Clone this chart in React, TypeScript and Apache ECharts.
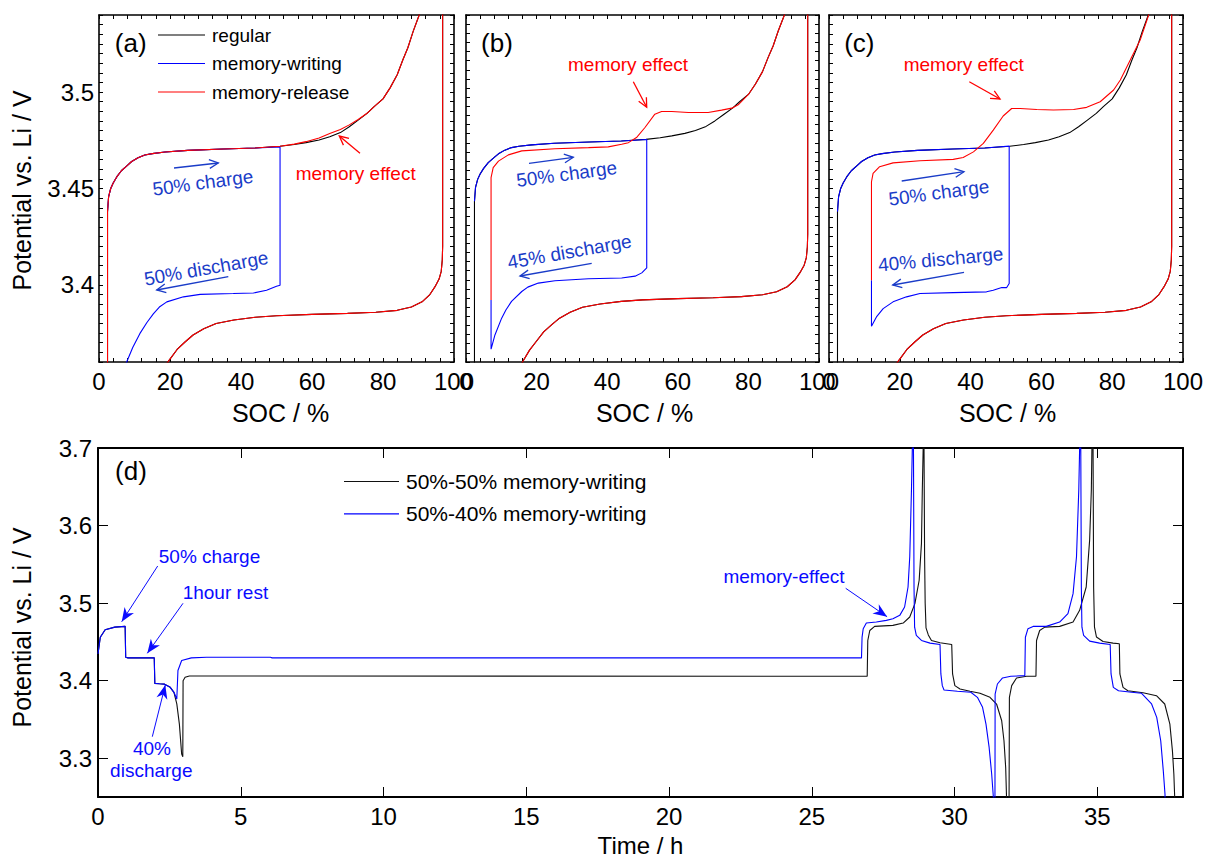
import React, { useEffect, useRef } from 'react';
import * as echarts from 'echarts';

const FONT = '"Liberation Sans", Arial, Helvetica, sans-serif';

// ---- SOC (%) vs potential (V) ----
const regularCharge: [number, number][] = [
  [2.4, 3.3], [2.4, 3.438], [2.7, 3.4456], [3.3, 3.45], [4.0, 3.4529], [5.0, 3.456], [6.3, 3.4592],
  [8.0, 3.462], [9.2, 3.464], [11.0, 3.466], [12.9, 3.4674], [15.0, 3.4681], [18.6, 3.4689],
  [25.0, 3.4698], [35.0, 3.4705], [44.0, 3.471], [51.0, 3.4719], [55.0, 3.4728], [58.3, 3.4738],
  [62.0, 3.4752], [65.0, 3.4768], [68.0, 3.479], [70.5, 3.482], [73.0, 3.4855], [75.5, 3.489],
  [77.5, 3.4925], [80.0, 3.4965], [82.0, 3.5022], [84.0, 3.509], [85.6, 3.5168], [87.0, 3.523],
  [88.5, 3.5315], [90.2, 3.54], [91.0, 3.555],
];

const regularDischarge: [number, number][] = [
  [96.8, 3.56], [96.8, 3.42], [96.7, 3.413], [96.4, 3.407], [95.8, 3.403], [94.8, 3.3995],
  [93.2, 3.395], [91.0, 3.3912], [88.0, 3.3885], [84.0, 3.3868], [78.0, 3.3858], [70.0, 3.3852],
  [60.0, 3.3847], [50.0, 3.384], [44.0, 3.3832], [38.0, 3.3818], [33.0, 3.38], [29.5, 3.3772],
  [26.5, 3.374], [24.3, 3.3705], [22.0, 3.3665], [20.0, 3.3615], [18.0, 3.3565], [16.0, 3.35],
  [14.5, 3.344],
];

const writingA: [number, number][] = [
  [2.4, 3.438], [2.7, 3.4456], [3.3, 3.45], [4.0, 3.4529], [5.0, 3.456], [6.3, 3.4592], [8.0, 3.462],
  [9.2, 3.464], [11.0, 3.466], [12.9, 3.4674], [15.0, 3.4681], [18.6, 3.4689], [25.0, 3.4698],
  [35.0, 3.4705], [44.0, 3.471], [51.0, 3.4716], [51.0, 3.3998], [50.0, 3.3993], [47.2, 3.3972],
  [43.5, 3.3958], [37.8, 3.3955], [28.5, 3.3951], [23.8, 3.3938], [19.1, 3.3912], [17.0, 3.3885],
  [15.3, 3.385], [13.5, 3.3805], [11.5, 3.3747], [9.5, 3.3675], [7.8, 3.36], [6.8, 3.355],
];

const releaseA: [number, number][] = [
  [2.4, 3.3], [2.4, 3.438], [2.7, 3.4456], [3.3, 3.45], [4.0, 3.4529], [5.0, 3.456], [6.3, 3.4592],
  [8.0, 3.462], [9.2, 3.464], [11.0, 3.466], [12.9, 3.4674], [15.0, 3.4681], [18.6, 3.4689],
  [25.0, 3.4698], [35.0, 3.4705], [44.0, 3.471], [51.0, 3.4719], [55.0, 3.473], [58.3, 3.4743],
  [62.0, 3.4762], [65.0, 3.4785], [68.0, 3.4806], [70.5, 3.483], [73.0, 3.4858], [75.5, 3.489],
  [77.5, 3.4925], [80.0, 3.4965], [82.0, 3.5022], [84.0, 3.509], [85.6, 3.5168], [87.0, 3.523],
  [88.5, 3.5315], [90.2, 3.54], [91.0, 3.555],
];

const writingB: [number, number][] = [
  [2.4, 3.438], [2.7, 3.4456], [3.3, 3.45], [4.0, 3.4529], [5.0, 3.456], [6.3, 3.4592], [8.0, 3.462],
  [9.2, 3.464], [11.0, 3.466], [12.9, 3.4674], [15.0, 3.4681], [18.6, 3.4689], [25.0, 3.4698],
  [35.0, 3.4705], [44.0, 3.471], [51.2, 3.4718], [51.2, 3.4015], [49.8, 3.3988], [47.9, 3.397],
  [44.1, 3.396], [34.7, 3.3956], [25.2, 3.3945], [20.5, 3.3932], [17.5, 3.391], [15.8, 3.3886],
  [12.9, 3.3832], [11.3, 3.3785], [10.1, 3.374], [8.2, 3.3648], [7.3, 3.3584], [7.1, 3.357],
  [7.1, 3.384],
];

const releaseB: [number, number][] = [
  [7.1, 3.384], [7.1, 3.4509], [7.7, 3.4564], [9.2, 3.46], [12.0, 3.4634], [15.8, 3.4656],
  [25.2, 3.4668], [34.7, 3.4674], [40.3, 3.4678], [44.1, 3.4692], [46.0, 3.4701], [48.3, 3.4729],
  [50.7, 3.4784], [53.5, 3.4857], [55.4, 3.4872], [58.3, 3.4872], [63.0, 3.4866], [68.6, 3.4866],
  [72.4, 3.4879], [75.3, 3.489], [77.1, 3.4908], [80.0, 3.4965], [82.0, 3.5022], [84.0, 3.509],
  [85.6, 3.5168], [87.0, 3.523], [88.5, 3.5315], [90.2, 3.54], [91.0, 3.555],
];

const writingC: [number, number][] = [
  [2.4, 3.438], [2.7, 3.4456], [3.3, 3.45], [4.0, 3.4529], [5.0, 3.456], [6.3, 3.4592], [8.0, 3.462],
  [9.2, 3.464], [11.0, 3.466], [12.9, 3.4674], [15.0, 3.4681], [18.6, 3.4689], [25.0, 3.4698],
  [35.0, 3.4705], [44.0, 3.471], [50.9, 3.472], [50.9, 3.4007], [50.2, 3.3986], [48.8, 3.3986],
  [46.4, 3.3972], [44.5, 3.3964], [35.1, 3.396], [25.7, 3.3955], [21.9, 3.3938], [18.1, 3.3912],
  [15.3, 3.3877], [13.4, 3.3834], [12.0, 3.3785], [12.0, 3.4024],
];

const releaseC: [number, number][] = [
  [12.0, 3.4024], [12.0, 3.4535], [12.45, 3.4578], [14.3, 3.4613], [18.1, 3.4633], [25.7, 3.4644],
  [35.1, 3.4651], [37.9, 3.4661], [40.8, 3.469], [43.6, 3.4734], [46.4, 3.4803], [49.2, 3.4876],
  [51.6, 3.4915], [54.0, 3.4915], [58.7, 3.491], [63.4, 3.4907], [69.1, 3.491], [72.8, 3.4921],
  [76.6, 3.495], [80.4, 3.5011], [82.3, 3.5063], [85.1, 3.5166], [87.9, 3.527], [90.3, 3.54],
  [91.0, 3.555],
];

// ---- time (h) vs potential (V) ----
const cycle5050: [number, number][] = [
  [0.0, 3.4346], [0.08, 3.456], [0.25, 3.4656], [0.59, 3.469], [0.95, 3.47], [0.97, 3.4302],
  [1.05, 3.4294], [1.97, 3.4294], [1.99, 3.3965], [2.15, 3.396], [2.33, 3.3955], [2.53, 3.3914],
  [2.66, 3.385], [2.76, 3.37], [2.85, 3.344], [2.93, 3.3053], [2.97, 3.302], [2.98, 3.4],
  [3.05, 3.4043], [3.2, 3.406], [26.94, 3.4056], [26.96, 3.4518], [27.03, 3.4647], [27.2, 3.47],
  [27.84, 3.4713], [28.2, 3.4743], [28.43, 3.4821], [28.61, 3.4993], [28.76, 3.5295], [28.84, 3.577],
  [28.87, 3.646], [28.9, 3.7], [28.91, 3.8], [28.93, 3.7], [28.95, 3.56], [28.97, 3.5], [29.0, 3.468],
  [29.08, 3.459], [29.19, 3.4518], [29.49, 3.4488], [29.9, 3.4467], [29.93, 3.4087], [30.01, 3.3936],
  [30.19, 3.3893], [30.54, 3.3863], [30.89, 3.3837], [31.24, 3.3785], [31.47, 3.3699], [31.65, 3.3483],
  [31.73, 3.3225], [31.79, 3.2879], [31.82, 3.249], [31.85, 3.15], [31.9, 3.15], [31.92, 3.3785],
  [32.0, 3.3936], [32.17, 3.4035], [32.52, 3.4056], [32.85, 3.4056], [32.87, 3.4518], [32.98, 3.4647],
  [33.16, 3.469], [33.68, 3.47], [34.15, 3.4756], [34.38, 3.4907], [34.61, 3.5208], [34.73, 3.5812],
  [34.79, 3.646], [34.81, 3.7], [34.83, 3.8], [34.85, 3.7], [34.87, 3.52], [34.9, 3.469],
  [34.97, 3.4562], [35.2, 3.4505], [35.55, 3.4484], [35.77, 3.4476], [35.79, 3.4087], [35.9, 3.3914],
  [36.07, 3.387], [36.6, 3.3845], [37.07, 3.3806], [37.36, 3.3699], [37.54, 3.344], [37.63, 3.3095],
  [37.68, 3.2794], [37.71, 3.249], [37.73, 3.15],
];

const cycle5040: [number, number][] = [
  [0.0, 3.4346], [0.08, 3.456], [0.25, 3.4656], [0.59, 3.469], [0.95, 3.47], [0.97, 3.4302],
  [1.05, 3.4294], [1.97, 3.4294], [1.99, 3.3965], [2.15, 3.396], [2.33, 3.3955], [2.53, 3.3914],
  [2.66, 3.385], [2.76, 3.3763], [2.8, 3.4131], [2.93, 3.426], [3.27, 3.4294], [3.8, 3.4302],
  [6.04, 3.4302], [6.1, 3.4294], [26.74, 3.4294], [26.76, 3.4562], [26.8, 3.467], [26.91, 3.4743],
  [27.26, 3.4756], [27.61, 3.4777], [27.84, 3.4799], [28.08, 3.4842], [28.25, 3.495], [28.37, 3.5208],
  [28.43, 3.5597], [28.49, 3.646], [28.52, 3.7], [28.54, 3.8], [28.56, 3.7], [28.58, 3.52],
  [28.6, 3.469], [28.66, 3.4583], [28.84, 3.4519], [29.14, 3.4484], [29.49, 3.4467], [29.52, 3.4087],
  [29.57, 3.3936], [29.63, 3.388], [30.1, 3.3863], [30.57, 3.385], [30.8, 3.3785], [30.98, 3.3656],
  [31.1, 3.344], [31.21, 3.3139], [31.3, 3.2794], [31.36, 3.249], [31.38, 3.15], [31.41, 3.15],
  [31.42, 3.3828], [31.5, 3.3957], [31.68, 3.4035], [31.97, 3.4056], [32.46, 3.4065], [32.48, 3.456],
  [32.57, 3.467], [32.75, 3.47], [33.21, 3.47], [33.68, 3.4756], [33.97, 3.4864], [34.15, 3.5122],
  [34.27, 3.5597], [34.35, 3.646], [34.38, 3.7], [34.4, 3.8], [34.42, 3.7], [34.44, 3.52],
  [34.46, 3.469], [34.52, 3.4583], [34.73, 3.451], [35.08, 3.4484], [35.45, 3.4467], [35.48, 3.4087],
  [35.56, 3.3914], [35.74, 3.387], [36.2, 3.385], [36.55, 3.3837], [36.9, 3.37], [37.08, 3.3527],
  [37.22, 3.3225], [37.31, 3.2837], [37.37, 3.2535], [37.39, 3.15],
];

// Axis ranges and tick values
const socRange = [0, 100];
const potentialRanges = [[3.36, 3.54], [3.35, 3.54], [3.36, 3.54]];
const timeRange = [0, 38];
const timeTickLabels = [0, 5, 10, 15, 20, 25, 30, 35];
const potentialTicksD = [3.3, 3.4, 3.5, 3.6, 3.7];
const potentialRangeD = [3.25, 3.7];

const BLACK = '#000000';
const BLUE = '#0000ff';
const RED = '#ff0000';
const NOTE_BLUE = '#1a3cc8';
const NOTE_BLUE_D = '#0a0aff';

const topGrids = [
  { left: 99, top: 15, width: 355, height: 347 },
  { left: 466, top: 15, width: 353, height: 347 },
  { left: 829, top: 15, width: 354, height: 347 },
];
const bottomGrid = { left: 98, top: 448, width: 1085, height: 349 };

function label(text: string, x: number, y: number, color: string, size: number, rot = 0) {
  return {
    type: 'text',
    x,
    y,
    rotation: (rot * Math.PI) / 180,
    z: 60,
    style: {
      text,
      fill: color,
      fontSize: size,
      fontFamily: FONT,
      align: 'center',
      verticalAlign: 'middle',
      textAlign: 'center',
      textVerticalAlign: 'middle',
    },
  };
}

function arrow(x1: number, y1: number, x2: number, y2: number, color: string, filled: boolean) {
  const ang = Math.atan2(y2 - y1, x2 - x1);
  const len = filled ? 15 : 10;
  const spread = filled ? 0.38 : 0.45;
  const w1 = [x2 - len * Math.cos(ang - spread), y2 - len * Math.sin(ang - spread)];
  const w2 = [x2 - len * Math.cos(ang + spread), y2 - len * Math.sin(ang + spread)];
  const els: any[] = [
    { type: 'line', z: 50, shape: { x1, y1, x2, y2 }, style: { stroke: color, lineWidth: filled ? 1 : 1.3 } },
  ];
  if (filled) {
    const back = [x2 - len * 0.65 * Math.cos(ang), y2 - len * 0.65 * Math.sin(ang)];
    els.push({ type: 'polygon', z: 51, shape: { points: [w1, [x2, y2], w2, back] }, style: { fill: color } });
  } else {
    els.push({
      type: 'polyline',
      z: 51,
      shape: { points: [w1, [x2, y2], w2] },
      style: { stroke: color, lineWidth: 1.3, fill: null },
    });
  }
  return els;
}

function isMultiple(v: number, step: number) {
  const q = v / step;
  return Math.abs(q - Math.round(q)) < 1e-6;
}

function buildOption() {
  const grid: any[] = [];
  const xAxis: any[] = [];
  const yAxis: any[] = [];
  const series: any[] = [];

  const tickStyle = (len: number) => ({ show: true, inside: true, length: len, lineStyle: { color: BLACK, width: 1 } });
  const lineStyle = (w: number) => ({ show: true, onZero: false, lineStyle: { color: BLACK, width: w } });

  topGrids.forEach((g, i) => {
    grid.push({ ...g, show: false, outerBoundsMode: 'none', containLabel: false });
    const [ymin, ymax] = potentialRanges[i];
    // bottom + top SOC axes
    xAxis.push({
      type: 'value', gridIndex: i, position: 'bottom', min: socRange[0], max: socRange[1], interval: 4,
      axisLine: lineStyle(1.6), axisTick: tickStyle(4), splitLine: { show: false },
      axisLabel: {
        show: true, margin: 7, color: BLACK, fontSize: 24, fontFamily: FONT,
        formatter: (v: number) => (isMultiple(v, 20) ? String(Math.round(v)) : ''),
      },
    });
    xAxis.push({
      type: 'value', gridIndex: i, position: 'top', min: socRange[0], max: socRange[1], interval: 4,
      axisLine: lineStyle(1.6), axisTick: tickStyle(4), splitLine: { show: false }, axisLabel: { show: false },
    });
    yAxis.push({
      type: 'value', gridIndex: i, position: 'left', min: ymin, max: ymax, interval: 0.005,
      axisLine: lineStyle(1.6), axisTick: tickStyle(4), splitLine: { show: false },
      axisLabel: {
        show: i === 0, margin: 5, color: BLACK, fontSize: 24, fontFamily: FONT,
        formatter: (v: number) => (isMultiple(v, 0.05) ? String(Number(v.toFixed(2))) : ''),
      },
    });
    yAxis.push({
      type: 'value', gridIndex: i, position: 'right', min: ymin, max: ymax, interval: 0.005,
      axisLine: lineStyle(1.6), axisTick: tickStyle(4), splitLine: { show: false }, axisLabel: { show: false },
    });
  });

  grid.push({ ...bottomGrid, show: false, outerBoundsMode: 'none', containLabel: false });
  xAxis.push({
    type: 'value', gridIndex: 3, position: 'bottom', min: timeRange[0], max: timeRange[1], interval: 5,
    axisLine: lineStyle(2), axisTick: tickStyle(10), splitLine: { show: false },
    axisLabel: {
      show: true, margin: 7, color: BLACK, fontSize: 24, fontFamily: FONT,
      formatter: (v: number) => (timeTickLabels.includes(v) ? String(v) : ''),
    },
  });
  xAxis.push({
    type: 'value', gridIndex: 3, position: 'top', min: timeRange[0], max: timeRange[1], interval: 5,
    axisLine: lineStyle(2), axisTick: tickStyle(10), splitLine: { show: false }, axisLabel: { show: false },
  });
  yAxis.push({
    type: 'value', gridIndex: 3, position: 'left', min: potentialRangeD[0], max: potentialRangeD[1],
    axisLine: lineStyle(2), axisTick: { ...tickStyle(10), customValues: potentialTicksD }, splitLine: { show: false },
    axisLabel: {
      show: true, margin: 6, color: BLACK, fontSize: 24, fontFamily: FONT, customValues: potentialTicksD,
      formatter: (v: number) => v.toFixed(1),
    },
  });
  yAxis.push({
    type: 'value', gridIndex: 3, position: 'right', min: potentialRangeD[0], max: potentialRangeD[1],
    axisLine: lineStyle(2), axisTick: { ...tickStyle(10), customValues: potentialTicksD }, splitLine: { show: false },
    axisLabel: { show: false },
  });

  const line = (name: string, data: [number, number][], color: string, gi: number, z = 2) => ({
    type: 'line', name, data, xAxisIndex: 2 * gi, yAxisIndex: 2 * gi, symbol: 'none', showSymbol: false,
    clip: true, z, lineStyle: { color, width: 1.1 }, itemStyle: { color }, emphasis: { disabled: true },
    silent: true,
  });

  const panels = [
    [writingA, releaseA],
    [writingB, releaseB],
    [writingC, releaseC],
  ];
  panels.forEach(([w, r], i) => {
    series.push(line('regular', regularCharge, BLACK, i, 2));
    series.push(line('regular', regularDischarge, BLACK, i, 2));
    series.push(line('memory-writing', w, BLUE, i, 3));
    series.push(line('memory-release', r, RED, i, 4));
    series.push(line('memory-release', regularDischarge, RED, i, 4));
  });
  series.push(line('50%-50% memory-writing', cycle5050, '#111111', 3, 2));
  series.push(line('50%-40% memory-writing', cycle5040, BLUE, 3, 3));

  const graphic: any[] = [
    label('(a)', 130.7, 43.3, BLACK, 26),
    label('(b)', 497, 43.3, BLACK, 26),
    label('(c)', 859.3, 43.3, BLACK, 26),
    label('(d)', 131, 471, BLACK, 26),
    label('SOC / %', 280.5, 413, BLACK, 25),
    label('SOC / %', 644.5, 413, BLACK, 25),
    label('SOC / %', 1007.5, 413, BLACK, 25),
    label('Time / h', 640.5, 845, BLACK, 24),
    label('Potential vs. Li / V', 22, 190.5, BLACK, 25, 90),
    label('Potential vs. Li / V', 22, 627.5, BLACK, 25, 90),

    // (a)
    label('50% charge', 202.8, 182.7, NOTE_BLUE, 19, 7.5),
    label('50% discharge', 206.2, 268.3, NOTE_BLUE, 19, 10),
    label('memory effect', 355.7, 173.3, RED, 19),
    ...arrow(174, 168, 218.3, 163, NOTE_BLUE, false),
    ...arrow(228.3, 276.7, 156.7, 290, NOTE_BLUE, false),
    ...arrow(360, 153.3, 339.3, 136, RED, false),

    // (b)
    label('memory effect', 628, 64, RED, 19),
    label('50% charge', 566.7, 174, NOTE_BLUE, 19, 7.5),
    label('45% discharge', 569.5, 251.7, NOTE_BLUE, 19, 10),
    ...arrow(633.3, 81.7, 646.7, 107.3, RED, false),
    ...arrow(529, 163.3, 573.3, 157.3, NOTE_BLUE, false),
    ...arrow(591.7, 263.3, 520, 276, NOTE_BLUE, false),

    // (c)
    label('memory effect', 963.7, 64, RED, 19),
    label('50% charge', 938.8, 192.7, NOTE_BLUE, 19, 7.5),
    label('40% discharge', 940.7, 259.3, NOTE_BLUE, 19, 5.3),
    ...arrow(969.3, 81.7, 1000, 99, RED, false),
    ...arrow(901.7, 181, 964, 171.7, NOTE_BLUE, false),
    ...arrow(964, 272.3, 892.7, 285, NOTE_BLUE, false),

    // (d)
    label('50% charge', 209.5, 556, NOTE_BLUE_D, 19),
    ...arrow(157.7, 566, 121.7, 621.7, NOTE_BLUE_D, true),
    label('1hour rest', 225.4, 592.7, NOTE_BLUE_D, 19),
    ...arrow(183, 603.3, 147.3, 653.3, NOTE_BLUE_D, true),
    label('40%', 152, 748.3, NOTE_BLUE_D, 19),
    label('discharge', 151.3, 770, NOTE_BLUE_D, 19),
    ...arrow(152.3, 736.7, 165.3, 685, NOTE_BLUE_D, true),
    label('memory-effect', 784, 576.7, NOTE_BLUE_D, 19),
    ...arrow(845.7, 588.3, 887.1, 616.7, NOTE_BLUE_D, true),
  ];

  const legendItems = (names: string[]) => names.map((name) => ({ name, icon: 'rect' }));

  return {
    animation: false,
    backgroundColor: '#ffffff',
    grid,
    xAxis,
    yAxis,
    series,
    graphic,
    legend: [
      {
        data: legendItems(['regular', 'memory-writing', 'memory-release']),
        left: 158, top: 25.5, orient: 'vertical', padding: 0,
        itemWidth: 47, itemHeight: 1.2, itemGap: 9.5, selectedMode: false,
        textStyle: { fontSize: 19, fontFamily: FONT, color: BLACK, padding: [0, 0, 0, 2] },
      },
      {
        data: legendItems(['50%-50% memory-writing', '50%-40% memory-writing']),
        left: 344, top: 471, orient: 'vertical', padding: 0,
        itemWidth: 55, itemHeight: 1.2, itemGap: 11.3, selectedMode: false,
        textStyle: { fontSize: 21, fontFamily: FONT, color: BLACK, padding: [0, 0, 0, 2] },
      },
    ],
  };
}

export default function App() {
  const ref = useRef<HTMLDivElement>(null);
  useEffect(() => {
    if (!ref.current) return;
    const chart = echarts.init(ref.current, undefined, { renderer: 'svg', width: 1206, height: 860 });
    chart.setOption(buildOption() as any);
    return () => chart.dispose();
  }, []);
  return (
    <div
      ref={ref}
      style={{ position: 'absolute', left: 0, top: 0, width: 1206, height: 860, background: '#ffffff' }}
    />
  );
}
